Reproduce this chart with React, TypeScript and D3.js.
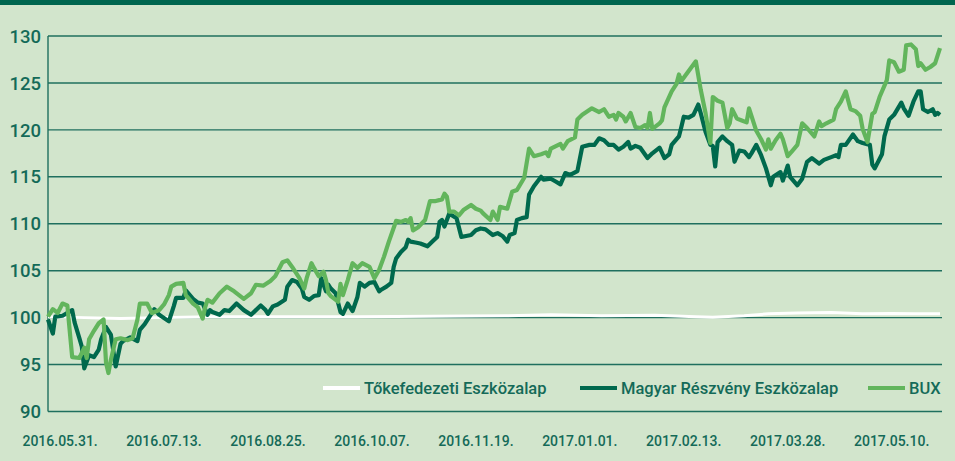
import React from "react";
import * as d3 from "d3";

const W = 955;
const H = 461;

const yTicks = [90, 95, 100, 105, 110, 115, 120, 125, 130];
const xTickDates = ["2016-05-31", "2016-07-13", "2016-08-25", "2016-10-07", "2016-11-19", "2017-01-01", "2017-02-13", "2017-03-28", "2017-05-10"];
const seriesNames = ["Tőkefedezeti Eszközalap", "Magyar Részvény Eszközalap", "BUX"];

const tokeDates = ["2016-05-26","2016-06-10","2016-06-25","2016-07-10","2016-08-01","2016-09-01","2016-10-01","2016-11-01","2016-12-01","2016-12-20","2017-01-10","2017-02-01","2017-02-18","2017-02-25","2017-03-10","2017-03-20","2017-04-01","2017-04-15","2017-04-28","2017-05-10","2017-05-20","2017-05-30"];
const tokeValues = [100.1,100.0,99.9,100.0,100.1,100.1,100.1,100.15,100.2,100.3,100.2,100.25,100.1,100.05,100.2,100.4,100.5,100.55,100.4,100.45,100.4,100.4];

const magyarDates = ["2016-05-26","2016-05-28","2016-05-29","2016-06-01","2016-06-05","2016-06-06","2016-06-08","2016-06-09","2016-06-10","2016-06-12","2016-06-14","2016-06-16","2016-06-17","2016-06-19","2016-06-21","2016-06-22","2016-06-23","2016-06-25","2016-06-26","2016-06-29","2016-07-02","2016-07-03","2016-07-05","2016-07-07","2016-07-09","2016-07-11","2016-07-15","2016-07-17","2016-07-18","2016-07-21","2016-07-22","2016-07-25","2016-07-27","2016-07-29","2016-07-31","2016-08-01","2016-08-02","2016-08-05","2016-08-07","2016-08-09","2016-08-12","2016-08-15","2016-08-18","2016-08-22","2016-08-24","2016-08-25","2016-08-27","2016-08-29","2016-09-01","2016-09-02","2016-09-04","2016-09-06","2016-09-08","2016-09-09","2016-09-11","2016-09-13","2016-09-15","2016-09-16","2016-09-18","2016-09-19","2016-09-20","2016-09-22","2016-09-24","2016-09-25","2016-09-27","2016-09-28","2016-09-29","2016-10-01","2016-10-02","2016-10-04","2016-10-06","2016-10-08","2016-10-10","2016-10-11","2016-10-13","2016-10-15","2016-10-16","2016-10-17","2016-10-19","2016-10-21","2016-10-22","2016-10-23","2016-10-25","2016-10-27","2016-10-30","2016-11-01","2016-11-03","2016-11-04","2016-11-05","2016-11-06","2016-11-08","2016-11-09","2016-11-11","2016-11-13","2016-11-15","2016-11-17","2016-11-19","2016-11-21","2016-11-23","2016-11-26","2016-11-28","2016-11-30","2016-12-02","2016-12-03","2016-12-05","2016-12-06","2016-12-08","2016-12-10","2016-12-11","2016-12-13","2016-12-16","2016-12-17","2016-12-20","2016-12-22","2016-12-24","2016-12-26","2016-12-28","2016-12-31","2017-01-02","2017-01-05","2017-01-07","2017-01-09","2017-01-11","2017-01-13","2017-01-15","2017-01-17","2017-01-19","2017-01-21","2017-01-22","2017-01-24","2017-01-26","2017-01-29","2017-01-31","2017-02-03","2017-02-05","2017-02-07","2017-02-08","2017-02-11","2017-02-12","2017-02-13","2017-02-15","2017-02-17","2017-02-19","2017-02-20","2017-02-22","2017-02-24","2017-02-25","2017-02-26","2017-02-27","2017-03-01","2017-03-03","2017-03-05","2017-03-06","2017-03-08","2017-03-10","2017-03-12","2017-03-13","2017-03-15","2017-03-17","2017-03-19","2017-03-21","2017-03-22","2017-03-25","2017-03-26","2017-03-28","2017-03-29","2017-04-01","2017-04-03","2017-04-05","2017-04-07","2017-04-10","2017-04-12","2017-04-15","2017-04-17","2017-04-18","2017-04-19","2017-04-21","2017-04-24","2017-04-26","2017-04-28","2017-05-01","2017-05-02","2017-05-03","2017-05-06","2017-05-07","2017-05-09","2017-05-11","2017-05-14","2017-05-15","2017-05-17","2017-05-19","2017-05-21","2017-05-22","2017-05-23","2017-05-25","2017-05-27","2017-05-28","2017-05-29","2017-05-30"];
const magyarValues = [99.8,98.3,100.1,100.2,100.8,99.5,97.8,96.9,94.6,96.0,95.8,96.6,97.7,99.0,98.2,96.5,94.8,97.2,97.5,97.9,97.5,98.7,99.3,100.1,100.9,100.3,99.6,101.2,102.1,102.1,102.9,102.0,101.6,101.5,100.3,100.8,100.6,100.3,100.8,100.7,101.5,100.8,100.3,101.3,100.8,100.4,101.2,101.4,101.9,103.3,104.0,103.8,103.1,102.2,101.9,102.3,102.4,104.2,102.8,103.5,103.1,102.6,100.6,100.4,101.5,101.1,100.7,102.2,103.7,103.3,103.7,103.8,102.8,103.0,103.3,103.7,105.4,106.3,107.0,107.5,108.3,108.1,108.0,107.9,107.6,108.1,108.6,110.2,110.4,109.7,111.1,110.9,110.6,108.6,108.7,108.8,109.3,109.5,109.4,108.8,109.0,108.7,108.1,108.8,109.0,110.4,110.6,110.7,113.1,114.0,115.0,114.7,114.8,114.5,114.2,115.4,115.2,115.6,118.2,118.4,118.4,119.1,118.9,118.4,118.4,117.9,118.2,118.7,118.0,118.3,118.1,117.0,117.5,118.1,117.0,117.4,118.4,119.3,120.3,121.4,121.3,121.6,122.7,121.8,119.8,118.4,118.3,116.1,118.7,119.3,118.8,118.4,116.6,117.8,117.7,117.1,117.5,118.4,117.3,115.9,114.1,115.0,115.5,114.6,116.2,115.0,114.1,114.8,116.6,117.0,116.4,116.8,117.1,117.3,117.1,118.4,118.4,119.5,118.8,118.6,118.4,116.3,115.9,117.4,119.3,121.1,121.6,122.9,122.3,121.5,123.0,124.1,124.1,122.2,121.9,122.2,121.6,121.8,121.6];

const buxDates = ["2016-05-26","2016-05-28","2016-05-30","2016-06-01","2016-06-03","2016-06-05","2016-06-08","2016-06-10","2016-06-11","2016-06-12","2016-06-14","2016-06-16","2016-06-18","2016-06-19","2016-06-20","2016-06-21","2016-06-23","2016-06-25","2016-06-28","2016-06-30","2016-07-02","2016-07-03","2016-07-06","2016-07-08","2016-07-11","2016-07-13","2016-07-15","2016-07-16","2016-07-18","2016-07-21","2016-07-22","2016-07-25","2016-07-27","2016-07-29","2016-07-30","2016-07-31","2016-08-02","2016-08-05","2016-08-08","2016-08-11","2016-08-13","2016-08-15","2016-08-18","2016-08-20","2016-08-23","2016-08-26","2016-08-28","2016-08-30","2016-08-31","2016-09-02","2016-09-04","2016-09-07","2016-09-09","2016-09-10","2016-09-12","2016-09-13","2016-09-15","2016-09-17","2016-09-18","2016-09-19","2016-09-20","2016-09-23","2016-09-24","2016-09-25","2016-09-27","2016-09-29","2016-10-01","2016-10-03","2016-10-06","2016-10-08","2016-10-10","2016-10-12","2016-10-14","2016-10-17","2016-10-19","2016-10-21","2016-10-22","2016-10-23","2016-10-24","2016-10-26","2016-10-29","2016-10-31","2016-11-02","2016-11-05","2016-11-06","2016-11-07","2016-11-08","2016-11-10","2016-11-12","2016-11-14","2016-11-17","2016-11-19","2016-11-21","2016-11-22","2016-11-25","2016-11-26","2016-11-28","2016-11-29","2016-12-02","2016-12-04","2016-12-06","2016-12-09","2016-12-11","2016-12-13","2016-12-16","2016-12-18","2016-12-19","2016-12-20","2016-12-24","2016-12-25","2016-12-27","2016-12-30","2016-12-31","2017-01-02","2017-01-06","2017-01-09","2017-01-11","2017-01-13","2017-01-15","2017-01-16","2017-01-17","2017-01-19","2017-01-20","2017-01-22","2017-01-24","2017-01-26","2017-01-28","2017-01-29","2017-01-30","2017-01-31","2017-02-03","2017-02-04","2017-02-05","2017-02-08","2017-02-10","2017-02-11","2017-02-12","2017-02-18","2017-02-20","2017-02-22","2017-02-24","2017-02-25","2017-02-27","2017-03-01","2017-03-03","2017-03-04","2017-03-05","2017-03-07","2017-03-09","2017-03-11","2017-03-12","2017-03-13","2017-03-15","2017-03-17","2017-03-19","2017-03-20","2017-03-21","2017-03-23","2017-03-25","2017-03-26","2017-03-28","2017-03-30","2017-04-01","2017-04-03","2017-04-05","2017-04-08","2017-04-10","2017-04-11","2017-04-13","2017-04-16","2017-04-17","2017-04-19","2017-04-21","2017-04-23","2017-04-25","2017-04-27","2017-04-28","2017-04-30","2017-05-02","2017-05-03","2017-05-05","2017-05-08","2017-05-09","2017-05-11","2017-05-13","2017-05-15","2017-05-16","2017-05-18","2017-05-20","2017-05-21","2017-05-22","2017-05-24","2017-05-26","2017-05-28","2017-05-30"];
const buxValues = [100.1,100.9,100.5,101.5,101.3,95.8,95.7,96.8,95.7,97.7,98.6,99.4,99.8,95.2,94.1,95.5,97.7,97.8,97.6,97.8,99.8,101.5,101.5,100.5,100.8,101.4,102.4,103.3,103.6,103.7,102.4,101.5,101.1,99.9,101.1,101.9,101.6,102.6,103.3,102.8,102.4,102.0,102.6,103.5,103.4,103.9,104.4,105.4,105.9,106.1,105.4,104.2,103.1,104.2,105.8,105.3,104.4,104.9,104.0,102.6,102.3,101.7,103.6,102.4,104.0,105.8,105.3,105.8,105.4,104.2,105.1,106.5,108.1,110.3,110.2,110.4,110.2,110.6,109.3,109.6,110.4,112.4,112.4,112.6,113.2,112.9,111.3,111.3,110.9,111.5,112.0,111.6,111.4,111.1,110.4,111.3,110.4,111.8,111.6,113.4,113.6,114.9,118.0,117.2,117.4,117.6,117.2,118.0,118.5,118.0,118.8,119.2,121.1,121.6,122.3,121.9,122.2,121.4,121.6,121.1,121.8,121.4,120.9,121.8,120.3,120.2,120.5,120.2,121.8,120.1,120.7,121.0,122.4,124.1,124.9,125.9,125.2,127.3,124.3,121.8,118.6,123.5,123.1,122.9,120.2,120.7,122.2,121.2,121.0,120.8,122.3,121.5,119.9,119.0,117.9,119.0,118.0,118.9,119.6,119.0,117.2,117.8,118.4,120.7,120.2,119.3,120.9,120.4,120.7,121.1,122.2,123.0,124.1,122.2,122.0,121.5,120.1,118.7,121.7,121.9,123.5,125.3,127.4,127.2,126.2,126.4,129.0,129.1,128.6,126.8,127.1,126.4,126.7,127.1,128.7];

const BG = "#d2e5cc";
const DARK = "#00694d";
const LIGHT = "#62b55c";
const GRID = "#1f6f5e";
const TEXT = "#146a58";
const FONT = "Roboto, 'Noto Sans', sans-serif";

const parse = d3.timeParse("%Y-%m-%d");
const fmt = d3.timeFormat("%Y.%m.%d.");

export default function App() {
  const left = 48;
  const right = 942;
  const x = d3.scaleTime().domain([parse("2016-05-26")!, parse("2017-05-30")!]).range([48, 940]);
  const y = d3.scaleLinear().domain([90, 130]).range([411.5, 36]);

  const line = d3.line<[Date, number]>().x((d) => x(d[0])).y((d) => y(d[1])).curve(d3.curveLinear);
  const mk = (ds: string[], vs: number[]) => ds.map((d, i) => [parse(d)!, vs[i]] as [Date, number]);

  const toke = mk(tokeDates, tokeValues);
  const magyar = mk(magyarDates, magyarValues);
  const bux = mk(buxDates, buxValues);

  const legendY = 388;
  const legend = [
    { name: seriesNames[0], color: "#ffffff", x0: 323 },
    { name: seriesNames[1], color: DARK, x0: 580 },
    { name: seriesNames[2], color: LIGHT, x0: 868 },
  ];

  return (
    <svg width={W} height={H} style={{ position: "absolute", left: 0, top: 0 }} fontFamily={FONT}>
      <rect x={0} y={0} width={W} height={H} fill={BG} />
      <rect x={0} y={0} width={W} height={5} fill="#00664f" />
      {yTicks.map((t) => (
        <g key={t}>
          <line x1={left} x2={right} y1={y(t)} y2={y(t)} stroke={GRID} strokeWidth={1.4} />
          <text x={41} y={y(t)} dy="0.36em" textAnchor="end" fontSize={18.5} fontWeight={500} fill={TEXT}>{t}</text>
        </g>
      ))}
      <line x1={left} x2={left} y1={y(130)} y2={y(90)} stroke={GRID} strokeWidth={1.4} />
      {xTickDates.map((d) => {
        const dt = parse(d)!;
        return (
          <text key={d} x={x(dt)} y={446} textAnchor="middle" fontSize={14} fontWeight={500} fill={TEXT}>{fmt(dt)}</text>
        );
      })}
      <path d={line(toke) ?? ""} fill="none" stroke="#ffffff" strokeWidth={3} strokeLinejoin="round" />
      <path d={line(magyar) ?? ""} fill="none" stroke={DARK} strokeWidth={4.2} strokeLinejoin="round" />
      <path d={line(bux) ?? ""} fill="none" stroke={LIGHT} strokeWidth={4.2} strokeLinejoin="round" />
      {legend.map((l) => (
        <g key={l.name}>
          <line x1={l.x0} x2={l.x0 + 37} y1={legendY} y2={legendY} stroke={l.color} strokeWidth={4} />
          <text x={l.x0 + 41} y={legendY} dy="0.36em" fontSize={16.5} fontWeight={500} fill={TEXT}>{l.name}</text>
        </g>
      ))}
    </svg>
  );
}
